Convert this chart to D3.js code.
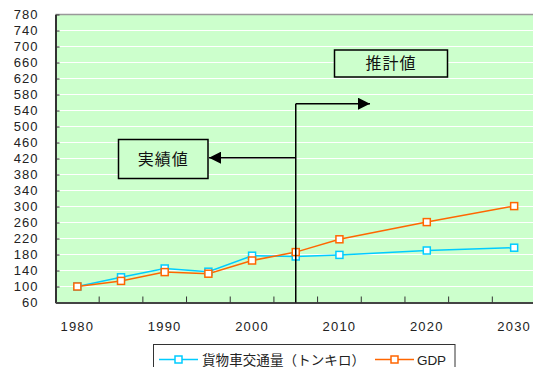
<!DOCTYPE html>
<html><head><meta charset="utf-8">
<script src="https://cdn.jsdelivr.net/npm/d3@7/dist/d3.min.js"></script>
<style>
body{margin:0;background:#fff;}
svg{display:block;font-family:"Liberation Sans",Arial,sans-serif;}
</style></head>
<body><svg id="c" width="533" height="367"></svg>
<script>
const categories = [1980,1985,1990,1995,2000,2005,2010,2015,2020,2025,2030];
const years = [1980,1985,1990,1995,2000,2005,2010,2020,2030];
const freight = [100,123,145,137,177,175,179,190,197];
const gdp = [100,114,136,132,165,186,218,261,301];
const yTicks = d3.range(60,781,40);
const xLabels = [1980,1990,2000,2010,2020,2030];
const seriesNames = ["貨物車交通量（トンキロ）","GDP"];
const colors = ["#00ccff","#ff6600"];

const svg = d3.select("#c");
const L=55.5, R=536, T=14.5, B=302.5;
const x = d3.scaleBand().domain(categories).range([L,R]);
const y = d3.scaleLinear().domain([60,780]).range([B,T]);
const cx = d => x(d)+x.bandwidth()/2;

svg.append("rect").attr("x",L).attr("y",T).attr("width",R-L).attr("height",B-T).attr("fill","#ccffcc");
svg.append("g").selectAll("line").data(yTicks.slice(1,-1)).join("line")
  .attr("x1",L).attr("x2",R).attr("y1",d=>y(d)).attr("y2",d=>y(d))
  .attr("stroke","#ffffff").attr("stroke-width",1);
svg.append("line").attr("x1",L).attr("x2",R).attr("y1",T).attr("y2",T).attr("stroke","#999").attr("stroke-width",1.5);

const yAxis = d3.axisLeft(y).tickValues(yTicks).tickSizeInner(-4).tickSizeOuter(0).tickPadding(17);
const gy = svg.append("g").attr("transform",`translate(${L},0)`).call(yAxis);
gy.select(".domain").attr("stroke","#333").attr("stroke-width",2);
gy.selectAll(".tick line").attr("stroke","#333");
gy.selectAll("text").attr("font-size",13).attr("fill","#222").attr("letter-spacing","1px").style("font-weight","500");

const xAxis = d3.axisBottom(x).tickValues([]).tickSizeOuter(0);
const gx = svg.append("g").attr("transform",`translate(0,${B})`).call(xAxis);
gx.select(".domain").attr("stroke","#444").attr("stroke-width",2);
gx.selectAll(".bt").data(categories.slice(1)).join("line")
  .attr("x1",d=>x(d)).attr("x2",d=>x(d)).attr("y1",0).attr("y2",-6).attr("stroke","#333");
gx.selectAll(".xl").data(xLabels).join("text")
  .attr("x",d=>cx(d)).attr("y",28).attr("text-anchor","middle")
  .attr("font-size",13).attr("fill","#222").attr("letter-spacing","1.2px").text(d=>d);

const line = d3.line().x(d=>cx(d[0])).y(d=>y(d[1]));
[freight,gdp].forEach((s,i)=>{
  const pts = years.map((yr,j)=>[yr,s[j]]);
  svg.append("path").datum(pts).attr("d",line).attr("fill","none").attr("stroke",colors[i]).attr("stroke-width",1.5);
});
[freight,gdp].forEach((s,i)=>{
  const pts = years.map((yr,j)=>[yr,s[j]]);
  svg.append("g").selectAll("rect").data(pts).join("rect")
    .attr("x",d=>cx(d[0])-3.5).attr("y",d=>y(d[1])-3.5).attr("width",7).attr("height",7)
    .attr("fill","#fff").attr("stroke",colors[i]).attr("stroke-width",1.5);
});

const xd = cx(2005);
svg.append("defs").append("marker").attr("id","ah").attr("viewBox","0 0 10 10")
  .attr("refX",10).attr("refY",5).attr("markerWidth",12).attr("markerHeight",12)
  .attr("markerUnits","userSpaceOnUse").attr("orient","auto")
  .append("path").attr("d","M0,0L10,5L0,10Z").attr("fill","#000");
svg.append("line").attr("x1",xd).attr("x2",xd).attr("y1",y(557)).attr("y2",B).attr("stroke","#000").attr("stroke-width",1.5);
svg.append("line").attr("x1",xd).attr("x2",x(2010)+x.bandwidth()*1.2).attr("y1",y(557)).attr("y2",y(557)).attr("stroke","#000").attr("stroke-width",1.5).attr("marker-end","url(#ah)");
svg.append("line").attr("x1",xd).attr("x2",209).attr("y1",y(422)).attr("y2",y(422)).attr("stroke","#000").attr("stroke-width",1.5).attr("marker-end","url(#ah)");

function box(x0,y0,w,h,label){
  svg.append("rect").attr("x",x0).attr("y",y0).attr("width",w).attr("height",h).attr("fill","#ccffcc").attr("stroke","#000").attr("stroke-width",1.5);
  svg.append("text").attr("x",x0+w/2).attr("y",y0+h/2+5.5).attr("text-anchor","middle")
    .attr("font-family","'Noto Sans CJK JP',sans-serif").attr("font-size",16).attr("letter-spacing","1px").attr("fill","#111").text(label);
}
box(118.5,139.5,89.5,39,"実績値");
box(334.5,50,113,27,"推計値");

const lg = svg.append("g");
lg.append("rect").attr("x",153.5).attr("y",344.5).attr("width",301.5).attr("height",30).attr("fill","#fff").attr("stroke","#333").attr("stroke-width",1);
const lx = [159,375], tx=[202,417], tw=[163,29];
seriesNames.forEach((n,i)=>{
  lg.append("line").attr("x1",lx[i]).attr("x2",lx[i]+39).attr("y1",359.5).attr("y2",359.5).attr("stroke",colors[i]).attr("stroke-width",1.5);
  lg.append("rect").attr("x",lx[i]+16).attr("y",356).attr("width",7).attr("height",7).attr("fill","#fff").attr("stroke",colors[i]).attr("stroke-width",1.5);
  lg.append("text").attr("x",tx[i]).attr("y",364.5).attr("font-size",13.5).attr("fill","#222")
    .attr("font-family", i===0 ? "'Noto Sans CJK JP',sans-serif" : "'Liberation Sans',Arial,sans-serif")
    .attr("textLength",tw[i]).attr("lengthAdjust","spacing").text(n);
});
</script></body></html>
